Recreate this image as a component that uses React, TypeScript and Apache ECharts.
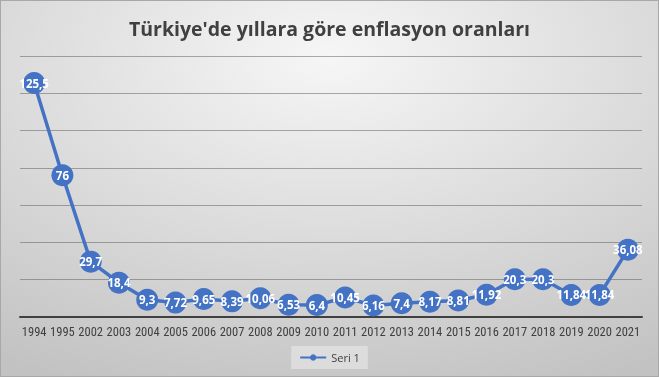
import React, { useEffect, useRef } from "react";
import * as echarts from "echarts";

const years = ["1994","1995","2002","2003","2004","2005","2006","2007","2008","2009","2010","2011","2012","2013","2014","2015","2016","2017","2018","2019","2020","2021"];
const rates = [125.5, 76, 29.7, 18.4, 9.3, 7.72, 9.65, 8.39, 10.06, 6.53, 6.4, 10.45, 6.16, 7.4, 8.17, 8.81, 11.92, 20.3, 20.3, 11.84, 11.84, 36.08];
const titleText = "Türkiye'de yıllara göre enflasyon oranları";
const seriesName = "Seri 1";

export default function App() {
  const ref = useRef<HTMLDivElement>(null);
  useEffect(() => {
    if (!ref.current) return;
    const chart = echarts.init(ref.current, null, { renderer: "svg" });
    chart.setOption({
      animation: false,
      backgroundColor: new echarts.graphic.RadialGradient(0.5, 0.15, 0.95, [
        { offset: 0, color: "#f6f6f6" },
        { offset: 1, color: "#c2c2c2" },
      ]),
      title: {
        text: titleText,
        left: "center",
        top: 12,
        textStyle: { fontFamily: "'Open Sans', sans-serif", fontSize: 19.5, fontWeight: "bold", color: "#404040" },
      },
      grid: { left: 19, right: 16, top: 55, bottom: 59 },
      legend: {
        bottom: 7,
        left: "center",
        itemWidth: 26,
        itemHeight: 8,
        padding: [6, 8],
        backgroundColor: "rgba(255,255,255,0.35)",
        textStyle: { fontFamily: "'Open Sans', sans-serif", fontSize: 11, color: "#404040" },
        data: [seriesName],
      },
      xAxis: {
        type: "category",
        data: years,
        boundaryGap: true,
        axisLine: { lineStyle: { color: "#404040", width: 2 } },
        axisTick: { show: false },
        axisLabel: {
          interval: 0,
          margin: 8,
          color: "#404040",
          fontSize: 12.5,
          fontFamily: "'Liberation Sans Narrow', 'Roboto Condensed', Roboto, sans-serif",
        },
      },
      yAxis: {
        type: "value",
        min: 0,
        max: 140,
        interval: 20,
        axisLabel: { show: false },
        axisLine: { show: false },
        axisTick: { show: false },
        splitLine: { lineStyle: { color: "rgba(90,90,90,0.5)", width: 1 } },
      },
      series: [
        {
          name: seriesName,
          type: "line",
          data: rates,
          symbol: "circle",
          symbolSize: 22,
          lineStyle: { color: "#4472C4", width: 3.5 },
          itemStyle: { color: "#4472C4" },
          label: {
            show: true,
            position: "inside",
            color: "#ffffff",
            fontWeight: "bold",
            fontSize: 11.5,
            fontFamily: "'Open Sans', sans-serif",
            formatter: (p: any) => String(p.value).replace(".", ","),
          },
        },
      ],
    });
    return () => chart.dispose();
  }, []);
  return (
    <div
      ref={ref}
      style={{ position: "fixed", left: 0, top: 0, width: 659, height: 377, boxSizing: "border-box", border: "1px solid #a8a8a8" }}
    />
  );
}
